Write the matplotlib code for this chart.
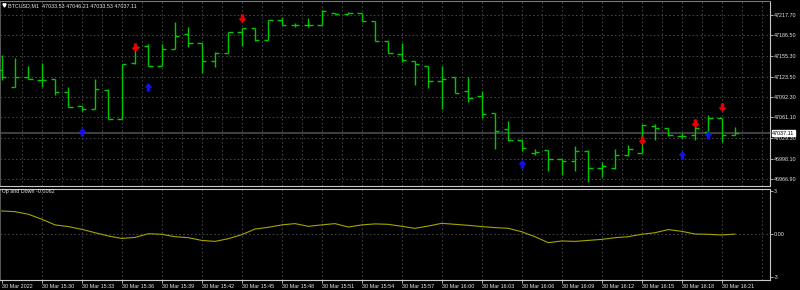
import matplotlib
matplotlib.use("Agg")
import matplotlib.pyplot as plt
import numpy as np
from matplotlib.path import Path

# BTCUSD M1, 30 Mar 2022 15:27 .. 16:22 (one bar per minute)
OPENS = [47133.59, 47108.05, 47122.43, 47118.30, 47119.37, 47100.40, 47078.53, 47073.49,
         47103.00, 47058.19, 47143.84, 47170.29, 47140.16, 47165.25, 47188.19, 47174.42,
         47146.89, 47159.13, 47191.24, 47197.36, 47179.01, 47210.05, 47201.95, 47201.95,
         47201.95, 47220.30, 47219.69, 47220.30, 47208.98, 47177.48, 47158.06, 47147.81,
         47139.25, 47117.23, 47122.43, 47101.47, 47094.29, 47067.83, 47043.82, 47026.54,
         47006.20, 47011.70, 46997.48, 46993.96, 47010.17, 46983.26, 46983.26, 47003.14,
         47006.20, 47048.41, 47044.43, 47032.66, 47034.18, 47038.77, 47059.72, 47033.53]
HIGHS = [47156.53, 47152.40, 47139.71, 47144.75, 47119.37, 47107.13, 47078.53, 47119.37,
         47104.07, 47142.76, 47169.22, 47173.35, 47173.35, 47206.54, 47198.89, 47174.42,
         47160.66, 47191.24, 47197.36, 47197.36, 47210.05, 47215.10, 47205.01, 47213.57,
         47225.35, 47220.30, 47221.83, 47220.30, 47208.98, 47177.48, 47175.34, 47147.81,
         47140.16, 47140.16, 47122.88, 47122.88, 47101.93, 47067.83, 47055.59, 47026.54,
         47012.77, 47011.70, 46997.94, 47017.36, 47010.79, 46993.35, 47012.77, 47018.43,
         47050.55, 47050.55, 47044.89, 47036.78, 47047.95, 47064.31, 47060.18, 47046.21]
LOWS = [47118.30, 47107.13, 47119.37, 47107.13, 47095.36, 47076.55, 47070.89, 47073.49,
        47058.19, 47058.19, 47142.76, 47140.16, 47140.16, 47165.25, 47169.22, 47128.54,
        47137.72, 47159.13, 47170.29, 47177.94, 47179.01, 47201.95, 47198.89, 47198.89,
        47201.95, 47218.77, 47218.77, 47208.98, 47177.48, 47159.13, 47146.28, 47110.19,
        47106.52, 47073.49, 47097.96, 47084.19, 47059.72, 47012.77, 47025.47, 47009.72,
        47004.06, 46979.59, 46973.47, 46978.67, 46961.85, 46969.50, 46982.65, 47002.53,
        47006.20, 47026.54, 47032.66, 47030.06, 47026.08, 47037.70, 47023.94, 47033.53]
CLOSES = [47122.88, 47122.43, 47119.37, 47118.30, 47100.40, 47077.46, 47074.41, 47104.07,
          47058.19, 47142.76, 47169.22, 47140.16, 47165.25, 47185.59, 47175.34, 47146.89,
          47159.13, 47191.24, 47197.36, 47179.01, 47210.05, 47201.95, 47201.95, 47201.95,
          47224.28, 47219.23, 47220.30, 47208.98, 47178.40, 47159.13, 47149.34, 47142.31,
          47117.23, 47119.83, 47097.96, 47091.23, 47065.84, 47040.30, 47026.54, 47013.84,
          47007.73, 46997.48, 46993.96, 47009.72, 46983.26, 46986.32, 47003.14, 47012.32,
          47049.48, 47044.43, 47033.73, 47032.66, 47044.89, 47060.18, 47033.73, 47037.11]

# "Up and Down" indicator (lower window)
UPDOWN = [1.62, 1.57, 1.39, 1.04, 0.64, 0.52, 0.33, 0.09, -0.14, -0.31, -0.24, 0.02, -0.02,
          -0.19, -0.26, -0.45, -0.52, -0.33, -0.05, 0.35, 0.47, 0.64, 0.73, 0.54, 0.64, 0.73,
          0.49, 0.64, 0.71, 0.68, 0.54, 0.40, 0.56, 0.75, 0.68, 0.61, 0.52, 0.45, 0.40, 0.16,
          -0.19, -0.61, -0.49, -0.52, -0.45, -0.38, -0.26, -0.19, -0.02, 0.09, 0.31, 0.19,
          0.00, -0.02, -0.07, -0.0062]

SELL_BARS = [10, 18, 48, 52, 54]
SELL_PRICES = [47169.22, 47213.57, 47026.54, 47052.08, 47077.46]
BUY_BARS = [6, 11, 39, 51, 53]
BUY_PRICES = [47038.31, 47107.13, 46989.38, 47003.60, 47034.18]

PRICE_TICKS = [47217.70, 47186.50, 47155.30, 47123.50, 47092.30, 47061.10, 47029.30,
               46998.10, 46966.90]
LAST_PRICE = 47037.11
TIME_LABELS = ["30 Mar 2022", "30 Mar 15:30", "30 Mar 15:33", "30 Mar 15:36", "30 Mar 15:39",
               "30 Mar 15:42", "30 Mar 15:45", "30 Mar 15:48", "30 Mar 15:51", "30 Mar 15:54",
               "30 Mar 15:57", "30 Mar 16:00", "30 Mar 16:03", "30 Mar 16:06", "30 Mar 16:09",
               "30 Mar 16:12", "30 Mar 16:15", "30 Mar 16:18", "30 Mar 16:21"]
HEADER = "BTCUSD,M1  47033.53 47046.21 47033.53 47037.11"
IND_LABEL = "Up and Down -0.0062"

W, H = 800, 290
FS = 3.9
TXT = "#e6e6e6"
GRID = dict(color="#4a4a4a", lw=0.7, ls=(0, (1.5, 2.5)))

plt.rcParams["font.family"] = ["Liberation Sans", "DejaVu Sans"]
fig = plt.figure(figsize=(W / 100, H / 100), dpi=100, facecolor="black")

# main window: px x 0..770, y 1..186 ; indicator: y 188.5..279.5
ax = fig.add_axes([0, (H - 186) / H, 770 / W, 185 / H])
ax2 = fig.add_axes([0, (H - 279.5) / H, 770 / W, 91 / H])

n = np.arange(len(OPENS))
for a in (ax, ax2):
    a.set_facecolor("black")
    a.set_xlim(-0.13, 57.63)
    a.spines["left"].set_color("#555555")
    for s in ("right", "bottom", "top"):
        a.spines[s].set_color("#c8c8c8")
    a.yaxis.tick_right()
    a.tick_params(axis="y", colors="#c8c8c8", labelcolor=TXT, labelsize=FS, length=2,
                  width=0.6, pad=1)
ax.spines["top"].set_color("#777777")

# main: grid, bid line, OHLC bars, arrows
ax.set_ylim(46956.19, 47239.11)
ax.set_yticks(PRICE_TICKS)
ax.set_yticklabels([f"{p:.2f}" for p in PRICE_TICKS])
for p in PRICE_TICKS:
    ax.axhline(p, zorder=0, **GRID)
for gx in np.arange(1.5, 57.1, 1.5):
    ax.axvline(gx, zorder=0, **GRID)
ax.set_xticks([])
ax.axhline(LAST_PRICE, color="#3e3e3e", lw=1.5, zorder=1)

bar_col = "#00c800"; w = 0.33
ax.vlines(n, LOWS, HIGHS, color=bar_col, lw=1.0, zorder=3)
ax.hlines(OPENS, n - w, n, color=bar_col, lw=1.0, zorder=3)
ax.hlines(CLOSES, n, n + w, color=bar_col, lw=1.0, zorder=3)

up = Path([(0, 1), (0.8, 0.15), (0.3, 0.15), (0.3, -1), (-0.3, -1), (-0.3, 0.15),
           (-0.8, 0.15), (0, 1)], closed=True)
down = Path([(x, -y) for x, y in up.vertices], closed=True)
ax.plot(BUY_BARS, BUY_PRICES, ls="none", marker=up, ms=5, color="#1010f0", zorder=4)
ax.plot(SELL_BARS, SELL_PRICES, ls="none", marker=down, ms=5, color="#e80000", zorder=4)

ax.text(1.003, LAST_PRICE, f"{LAST_PRICE:.2f}", transform=ax.get_yaxis_transform(),
        ha="left", va="center", fontsize=FS, color="black", zorder=6,
        bbox=dict(facecolor="white", edgecolor="white", pad=0.5))
ax.plot([4.3 / 770], [1 - 4 / 185], marker="v", ms=2.3, color="white",
        transform=ax.transAxes, clip_on=False)
fig.text(8 / W, 1 - 5.5 / H, HEADER, fontsize=FS, color=TXT, ha="left", va="center")

# indicator window
ax2.set_ylim(-3.2, 3.2)
ax2.set_yticks([3, 0, -3])
ax2.set_yticklabels(["3", "0.00", "-3"])
ax2.axhline(0, zorder=0, **GRID)
for gx in np.arange(3, 57.1, 3):
    ax2.axvline(gx, zorder=0, **GRID)
ax2.plot(n, UPDOWN, color="#a6a400", lw=0.8)
ax2.set_xticks(np.arange(0, 55, 3))
ax2.set_xticklabels(TIME_LABELS, ha="left")
ax2.tick_params(axis="x", colors="#c8c8c8", labelcolor=TXT, labelsize=FS, length=2,
                width=0.6, pad=1)
fig.text(2.5 / W, 1 - 192 / H, IND_LABEL, fontsize=FS, color=TXT, ha="left", va="center")

fig.savefig("out.png", dpi=100, facecolor="black")
